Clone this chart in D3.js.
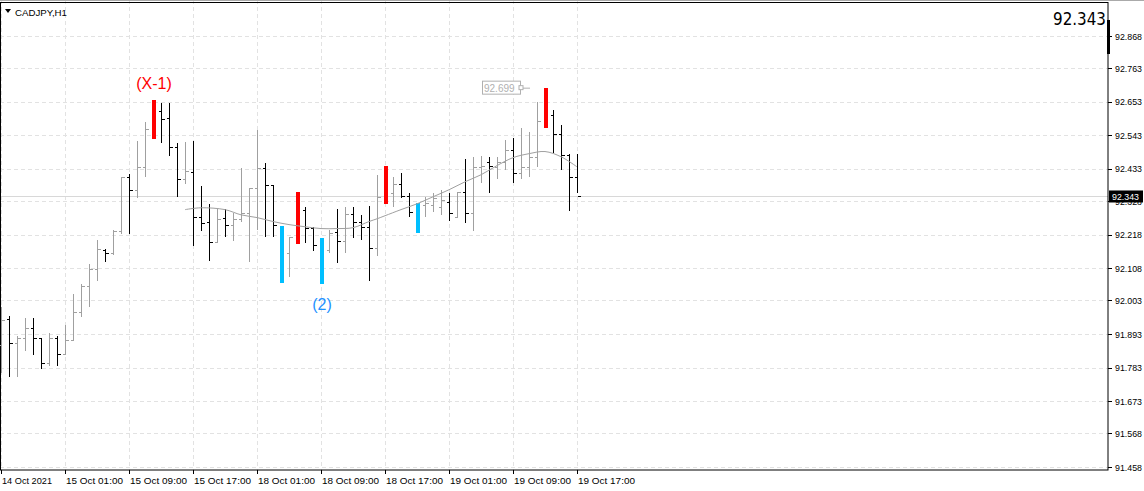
<!DOCTYPE html>
<html><head><meta charset="utf-8">
<script src="https://cdn.jsdelivr.net/npm/d3@7"></script>
<style>body{margin:0;background:#fff}svg{display:block;font-family:"Liberation Sans",Arial,sans-serif}</style>
</head><body><svg id="c" width="1144" height="491"></svg>
<script>
const opens=[91.858,91.943,91.865,91.881,91.914,91.881,91.797,91.881,91.829,91.872,91.966,92.051,92.107,92.169,92.159,92.231,92.408,92.365,92.440,92.564,92.623,92.600,92.506,92.401,92.424,92.277,92.260,92.195,92.274,92.251,92.270,92.290,92.372,92.437,92.381,92.251,92.159,92.202,92.300,92.241,92.185,92.169,92.228,92.198,92.287,92.261,92.244,92.176,92.332,92.355,92.385,92.346,92.293,92.316,92.316,92.310,92.326,92.277,92.359,92.290,92.440,92.457,92.440,92.457,92.496,92.421,92.440,92.473,92.591,92.610,92.548,92.479,92.408];
const highs=[91.983,91.953,91.885,91.947,91.947,91.881,91.895,91.885,91.924,92.025,92.058,92.123,92.202,92.172,92.234,92.408,92.417,92.525,92.587,92.659,92.649,92.649,92.519,92.522,92.525,92.378,92.319,92.303,92.303,92.290,92.437,92.372,92.561,92.453,92.381,92.247,92.211,92.359,92.310,92.244,92.208,92.234,92.303,92.310,92.310,92.283,92.313,92.414,92.444,92.408,92.421,92.355,92.323,92.342,92.355,92.365,92.355,92.359,92.466,92.473,92.476,92.473,92.473,92.528,92.535,92.568,92.555,92.653,92.699,92.627,92.578,92.483,92.483];
const lows=[91.767,91.751,91.751,91.836,91.826,91.780,91.790,91.787,91.829,91.872,91.950,91.983,92.065,92.130,92.153,92.221,92.221,92.339,92.408,92.532,92.519,92.476,92.342,92.385,92.182,92.231,92.133,92.192,92.211,92.198,92.260,92.130,92.234,92.211,92.211,92.061,92.081,92.189,92.192,92.166,92.058,92.159,92.127,92.159,92.208,92.202,92.065,92.149,92.319,92.310,92.339,92.277,92.225,92.277,92.293,92.283,92.264,92.277,92.257,92.231,92.388,92.355,92.401,92.430,92.388,92.401,92.408,92.440,92.568,92.486,92.430,92.297,92.355];
const closes=[91.940,91.865,91.881,91.914,91.881,91.797,91.881,91.829,91.872,91.966,92.051,92.107,92.172,92.159,92.231,92.408,92.365,92.440,92.564,92.623,92.597,92.506,92.401,92.427,92.277,92.257,92.195,92.270,92.251,92.270,92.290,92.372,92.437,92.381,92.251,92.159,92.211,92.349,92.241,92.185,92.130,92.225,92.198,92.287,92.261,92.244,92.176,92.342,92.398,92.385,92.346,92.293,92.319,92.323,92.339,92.332,92.290,92.359,92.290,92.440,92.444,92.444,92.457,92.496,92.421,92.440,92.473,92.591,92.610,92.548,92.479,92.408,92.343];
const redBars=[19,37,48,68];
const blueBars=[35,40,52];
const maIdx=[23,25,28,30,32,34,36,38,40,42,44,46,47,48,50,52,54,56,58,60,62,64,66,68,70,72];
const maVal=[92.300,92.306,92.300,92.283,92.274,92.261,92.251,92.244,92.238,92.238,92.241,92.261,92.270,92.280,92.300,92.319,92.342,92.365,92.391,92.414,92.444,92.470,92.483,92.490,92.473,92.440];
const yTicks=[92.868,92.763,92.653,92.543,92.433,92.328,92.218,92.108,92.003,91.893,91.783,91.673,91.568,91.458];
const xLabelIdx=[0,8,16,24,32,40,48,56,64,72];
const xLabels=["14 Oct 2021","15 Oct 01:00","15 Oct 09:00","15 Oct 17:00","18 Oct 01:00","18 Oct 09:00","18 Oct 17:00","19 Oct 01:00","19 Oct 09:00","19 Oct 17:00"];
const lastPrice=92.343, hiLabel=92.699;

const svg=d3.select("#c");
const R=1108,B=470;
const y=d3.scaleLinear().domain([91.458,92.868]).range([467,36]);
const x=d3.scaleLinear().domain([0,72]).range([1,577]);
const g=svg.append("g").attr("stroke","#e2e2e2").attr("stroke-dasharray","4,3");
yTicks.forEach(t=>g.append("line").attr("x1",0).attr("x2",R).attr("y1",Math.round(y(t))+.5).attr("y2",Math.round(y(t))+.5));
xLabelIdx.forEach(i=>g.append("line").attr("x1",Math.round(x(i))+.5).attr("x2",Math.round(x(i))+.5).attr("y1",0).attr("y2",B));
svg.append("line").attr("x1",0).attr("x2",R).attr("y1",Math.round(y(lastPrice))+.5).attr("y2",Math.round(y(lastPrice))+.5).attr("stroke","#d8d8d8");
svg.append("rect").attr("x",0.5).attr("y",2.5).attr("width",R-0.5).attr("height",B-2.5).attr("fill","none").attr("stroke","#000");
svg.append("line").attr("x1",0).attr("x2",1144).attr("y1",0.5).attr("y2",0.5).attr("stroke","#aaa");
const special=new Set([...redBars,...blueBars]);
const bars=svg.append("g").attr("shape-rendering","crispEdges");
opens.forEach((o,i)=>{
  if(special.has(i))return;
  const c=closes[i]>=o?"#a0a0a0":"#000";
  const xi=Math.round(x(i))+.5;
  bars.append("line").attr("x1",xi).attr("x2",xi).attr("y1",y(highs[i])).attr("y2",y(lows[i])).attr("stroke",c).attr("stroke-width",1.3);
  bars.append("line").attr("x1",xi-3).attr("x2",xi).attr("y1",Math.round(y(o))+.5).attr("y2",Math.round(y(o))+.5).attr("stroke",c);
  bars.append("line").attr("x1",xi).attr("x2",xi+3).attr("y1",Math.round(y(closes[i]))+.5).attr("y2",Math.round(y(closes[i]))+.5).attr("stroke",c);
});
[[redBars,"#ff0000"],[blueBars,"#00bfff"]].forEach(([arr,col])=>arr.forEach(i=>{
  bars.append("rect").attr("x",Math.round(x(i))-1).attr("y",y(highs[i])).attr("width",4).attr("height",y(lows[i])-y(highs[i])).attr("fill",col);
}));
svg.append("path").datum(maIdx.map((d,k)=>[x(d),y(maVal[k])])).attr("d",d3.line().curve(d3.curveCatmullRom)).attr("fill","none").attr("stroke","#a0a0a0").attr("stroke-width",1);
const ax=svg.append("g").attr("font-size",9).attr("fill","#000");
yTicks.forEach(t=>{ax.append("line").attr("x1",R).attr("x2",R+4).attr("y1",Math.round(y(t))+.5).attr("y2",Math.round(y(t))+.5).attr("stroke","#000");
  ax.append("text").attr("x",R+7).attr("y",y(t)+3.5).attr("textLength",27).attr("lengthAdjust","spacingAndGlyphs").text(t.toFixed(3));});
xLabelIdx.forEach((i,k)=>{ax.append("line").attr("x1",Math.round(x(i))+.5).attr("x2",Math.round(x(i))+.5).attr("y1",B).attr("y2",B+4).attr("stroke","#000");
  ax.append("text").attr("x",x(i)+1).attr("y",B+14).attr("textLength",k==0?50:57).attr("lengthAdjust","spacingAndGlyphs").text(xLabels[k]);});
const ly=y(lastPrice);
ax.append("rect").attr("x",R+1).attr("y",ly-6).attr("width",34).attr("height",12).attr("fill","#000");
ax.append("text").attr("x",R+4).attr("y",ly+3.5).attr("fill","#fff").attr("textLength",27).attr("lengthAdjust","spacingAndGlyphs").text(lastPrice.toFixed(3));
svg.append("rect").attr("x",R-1).attr("y",20).attr("width",3).attr("height",34).attr("fill","#000");
svg.append("text").attr("x",R-2).attr("y",25).attr("text-anchor","end").attr("font-size",17).attr("font-family","'DejaVu Sans'").attr("textLength",53).attr("lengthAdjust","spacingAndGlyphs").text(lastPrice.toFixed(3));
svg.append("path").attr("d","M5,9 L11,9 L8,13 Z").attr("fill","#000");
svg.append("text").attr("x",15).attr("y",16).attr("font-size",9).attr("textLength",52).attr("lengthAdjust","spacingAndGlyphs").text("CADJPY,H1");
const hy=y(hiLabel);
svg.append("rect").attr("x",482.5).attr("y",hy-6.5).attr("width",38).attr("height",13).attr("fill","#fff").attr("stroke","#b0b0b0");
svg.append("text").attr("x",484).attr("y",hy+4).attr("font-size",10).attr("fill","#b0b0b0").text(hiLabel.toFixed(3));
svg.append("line").attr("x1",520).attr("x2",530).attr("y1",hy+.5).attr("y2",hy+.5).attr("stroke","#b0b0b0");
svg.append("rect").attr("x",519).attr("y",hy-2).attr("width",4).attr("height",4).attr("fill","#fff").attr("stroke","#b0b0b0");
svg.append("text").attr("x",x(19)+1).attr("y",89).attr("text-anchor","middle").attr("font-size",16).attr("fill","#ff0000").text("(X-1)");
svg.append("text").attr("x",x(40)+1).attr("y",310).attr("text-anchor","middle").attr("font-size",16).attr("fill","#1e90ff").text("(2)");
</script></body></html>
